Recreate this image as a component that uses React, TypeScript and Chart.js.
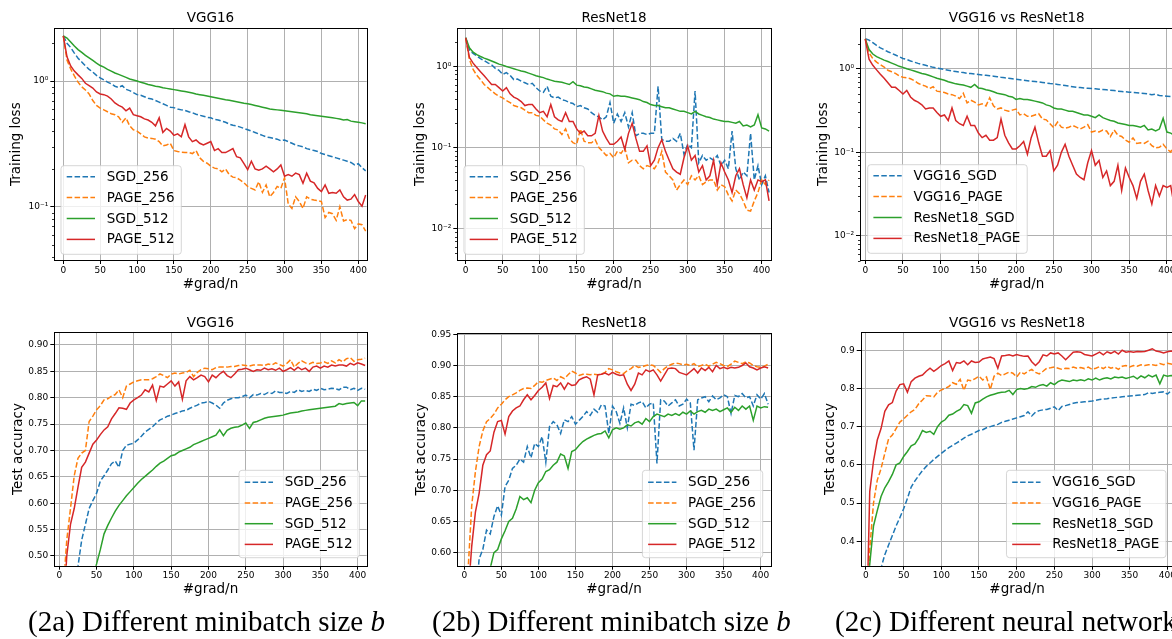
import React, { useEffect, useRef } from "react";
import { Chart, registerables } from "chart.js";

Chart.register(...registerables);

// ---------------- data ----------------
const X_STEPS = [
  0, 5, 10, 15, 20, 25, 30, 35, 40, 45,
  50, 55, 60, 65, 70, 75, 80, 85, 90, 95,
  100, 105, 110, 115, 120, 125, 130, 135, 140, 145,
  150, 155, 160, 165, 170, 175, 180, 185, 190, 195,
  200, 205, 210, 215, 220, 225, 230, 235, 240, 245,
  250, 255, 260, 265, 270, 275, 280, 285, 290, 295,
  300, 305, 310, 315, 320, 325, 330, 335, 340, 345,
  350, 355, 360, 365, 370, 375, 380, 385, 390, 395,
  400, 405, 410,
];
const X_TICKS = [0, 50, 100, 150, 200, 250, 300, 350, 400];

const VGG_LOSS_SGD256 = [
  2.29, 2.0, 1.85, 1.67, 1.52, 1.42, 1.32, 1.24, 1.18, 1.11,
  1.06, 1.02, 0.98, 0.95, 0.91, 0.89, 0.92, 0.86, 0.84, 0.81,
  0.78, 0.77, 0.75, 0.73, 0.72, 0.70, 0.68, 0.66, 0.64, 0.62,
  0.615, 0.60, 0.59, 0.585, 0.57, 0.56, 0.545, 0.535, 0.525, 0.515,
  0.51, 0.495, 0.49, 0.48, 0.47, 0.455, 0.445, 0.44, 0.43, 0.42,
  0.41, 0.40, 0.39, 0.38, 0.37, 0.36, 0.355, 0.35, 0.345, 0.335,
  0.34, 0.33, 0.32, 0.31, 0.305, 0.30, 0.29, 0.285, 0.28, 0.275,
  0.265, 0.26, 0.255, 0.25, 0.245, 0.24, 0.235, 0.23, 0.225, 0.215,
  0.22, 0.205, 0.193,
];
const VGG_LOSS_PAGE256 = [
  2.29, 1.47, 1.25, 1.10, 0.98, 0.90, 0.85, 0.79, 0.70, 0.64,
  0.61, 0.59, 0.57, 0.55, 0.54, 0.52, 0.47, 0.51, 0.44, 0.41,
  0.40, 0.38, 0.36, 0.352, 0.35, 0.345, 0.33, 0.305, 0.31, 0.32,
  0.28, 0.275, 0.272, 0.27, 0.27, 0.265, 0.28, 0.245, 0.23, 0.222,
  0.21, 0.203, 0.20, 0.19, 0.20, 0.18, 0.172, 0.17, 0.163, 0.155,
  0.145, 0.14, 0.136, 0.158, 0.13, 0.149, 0.12, 0.13, 0.145, 0.14,
  0.17, 0.105, 0.097, 0.12, 0.11, 0.097, 0.12, 0.115, 0.113, 0.112,
  0.11, 0.082, 0.09, 0.088, 0.078, 0.10, 0.077, 0.079, 0.078, 0.067,
  0.073, 0.072, 0.064,
];
const VGG_LOSS_SGD512 = [
  2.29, 2.2, 2.05, 1.9, 1.78, 1.69, 1.6, 1.53, 1.46, 1.39,
  1.33, 1.29, 1.24, 1.20, 1.16, 1.13, 1.10, 1.07, 1.04, 1.02,
  1.00, 0.98, 0.96, 0.94, 0.925, 0.91, 0.90, 0.885, 0.875, 0.865,
  0.855, 0.845, 0.835, 0.825, 0.815, 0.805, 0.79, 0.78, 0.77, 0.76,
  0.75, 0.74, 0.73, 0.72, 0.71, 0.705, 0.695, 0.685, 0.675, 0.665,
  0.66, 0.65, 0.64, 0.63, 0.62, 0.61, 0.60, 0.595, 0.59, 0.585,
  0.58, 0.575, 0.57, 0.565, 0.56, 0.555, 0.55, 0.54, 0.535, 0.53,
  0.525, 0.52, 0.515, 0.51, 0.505, 0.50, 0.49, 0.495, 0.48, 0.475,
  0.47, 0.465, 0.458,
];
const VGG_LOSS_PAGE512 = [
  2.29, 1.56, 1.32, 1.20, 1.12, 1.05, 0.96, 0.92, 0.88, 0.82,
  0.79, 0.78, 0.76, 0.72, 0.67, 0.64, 0.62, 0.58, 0.61, 0.54,
  0.53, 0.52, 0.50, 0.49, 0.47, 0.44, 0.51, 0.39, 0.42, 0.40,
  0.37, 0.38, 0.36, 0.45, 0.36, 0.33, 0.34, 0.32, 0.31, 0.32,
  0.33, 0.28, 0.29, 0.27, 0.27, 0.28, 0.29, 0.25, 0.245, 0.22,
  0.197, 0.23, 0.20, 0.195, 0.20, 0.21, 0.20, 0.19, 0.20, 0.215,
  0.175, 0.18, 0.175, 0.185, 0.18, 0.154, 0.185, 0.16, 0.155, 0.14,
  0.132, 0.149, 0.128, 0.13, 0.128, 0.136, 0.12, 0.113, 0.115, 0.125,
  0.11, 0.101, 0.124,
];

const RES_LOSS_SGD256 = [
  2.26, 1.6, 1.45, 1.35, 1.25, 1.18, 1.11, 1.05, 0.95, 0.90,
  0.80, 0.84, 0.78, 0.69, 0.70, 0.66, 0.63, 0.60, 0.62, 0.55,
  0.50, 0.48, 0.57, 0.43, 0.41, 0.42, 0.39, 0.38, 0.36, 0.35,
  0.32, 0.33, 0.31, 0.30, 0.27, 0.25, 0.24, 0.22, 0.24, 0.36,
  0.20, 0.26, 0.21, 0.27, 0.18, 0.27, 0.14, 0.15, 0.15, 0.145,
  0.15, 0.15, 0.57, 0.126, 0.12, 0.12, 0.13, 0.12, 0.15, 0.083,
  0.11, 0.10, 0.50, 0.065, 0.08, 0.07, 0.075, 0.07, 0.08, 0.06,
  0.07, 0.055, 0.16, 0.055, 0.04, 0.05, 0.045, 0.15, 0.04, 0.06,
  0.035, 0.045, 0.028,
];
const RES_LOSS_PAGE256 = [
  2.26, 1.22, 0.92, 0.78, 0.69, 0.60, 0.55, 0.50, 0.46, 0.43,
  0.41, 0.38, 0.36, 0.33, 0.32, 0.31, 0.29, 0.27, 0.27, 0.25,
  0.245, 0.22, 0.20, 0.19, 0.17, 0.165, 0.145, 0.17, 0.13, 0.115,
  0.11, 0.17, 0.12, 0.115, 0.115, 0.125, 0.10, 0.09, 0.08, 0.085,
  0.075, 0.09, 0.085, 0.10, 0.065, 0.07, 0.07, 0.06, 0.055, 0.06,
  0.058, 0.055, 0.065, 0.09, 0.05, 0.045, 0.04, 0.03, 0.035, 0.04,
  0.035, 0.045, 0.04, 0.045, 0.035, 0.038, 0.04, 0.04, 0.03, 0.035,
  0.033, 0.026, 0.022, 0.03, 0.027, 0.022, 0.017, 0.0165, 0.022, 0.028,
  0.04, 0.035, 0.04,
];
const RES_LOSS_SGD512 = [
  2.26, 1.7, 1.5, 1.4, 1.33, 1.27, 1.22, 1.17, 1.12, 1.07,
  1.04, 1.0, 0.97, 0.94, 0.91, 0.88, 0.86, 0.83, 0.80, 0.77,
  0.75, 0.73, 0.70, 0.68, 0.66, 0.65, 0.64, 0.62, 0.60, 0.65,
  0.59, 0.58, 0.56, 0.55, 0.53, 0.51, 0.50, 0.49, 0.47, 0.46,
  0.43, 0.44, 0.43, 0.43, 0.42, 0.41, 0.40, 0.39, 0.37, 0.36,
  0.34, 0.33, 0.33, 0.32, 0.31, 0.31, 0.30, 0.29, 0.28, 0.28,
  0.27, 0.26, 0.28, 0.26, 0.25, 0.24, 0.235, 0.225, 0.22, 0.215,
  0.21, 0.21, 0.205, 0.20, 0.21, 0.185, 0.19, 0.18, 0.19, 0.255,
  0.175, 0.17, 0.16,
];
const RES_LOSS_PAGE512 = [
  2.26, 1.3, 1.1, 0.97, 0.86, 0.77, 0.68, 0.60, 0.60, 0.55,
  0.50, 0.55, 0.46, 0.42, 0.40, 0.37, 0.33, 0.34, 0.34, 0.30,
  0.27, 0.28, 0.24, 0.34, 0.24, 0.22, 0.21, 0.27, 0.21, 0.21,
  0.17, 0.15, 0.16, 0.14, 0.14, 0.15, 0.25, 0.16, 0.13, 0.11,
  0.11, 0.12, 0.135, 0.095, 0.15, 0.20, 0.13, 0.09, 0.09, 0.105,
  0.06, 0.07, 0.10, 0.125, 0.09, 0.07, 0.055, 0.05, 0.047, 0.075,
  0.105, 0.07, 0.08, 0.05, 0.06, 0.04, 0.045, 0.07, 0.035, 0.065,
  0.05, 0.04, 0.028, 0.045, 0.055, 0.035, 0.024, 0.04, 0.03, 0.04,
  0.038, 0.04, 0.022,
];

const VGG_ACC_SGD256 = [
  0.10, 0.20, 0.30, 0.36, 0.42, 0.48, 0.53, 0.56, 0.59, 0.605,
  0.619, 0.642, 0.652, 0.663, 0.675, 0.68, 0.668, 0.70, 0.71, 0.712,
  0.714, 0.72, 0.727, 0.735, 0.74, 0.745, 0.752, 0.758, 0.761, 0.765,
  0.767, 0.77, 0.772, 0.775, 0.776, 0.78, 0.783, 0.786, 0.79, 0.791,
  0.793, 0.79, 0.786, 0.78, 0.79, 0.795, 0.798, 0.80, 0.80, 0.802,
  0.805, 0.80, 0.806, 0.805, 0.808, 0.806, 0.81, 0.808, 0.813, 0.81,
  0.81, 0.808, 0.812, 0.81, 0.815, 0.812, 0.814, 0.812, 0.816, 0.814,
  0.818, 0.815, 0.816, 0.818, 0.817, 0.815, 0.82, 0.82, 0.815, 0.818,
  0.814, 0.818, 0.816,
];
const VGG_ACC_PAGE256 = [
  0.10, 0.43, 0.53, 0.59, 0.652, 0.685, 0.695, 0.70, 0.755, 0.765,
  0.777, 0.785, 0.796, 0.798, 0.803, 0.806, 0.815, 0.80, 0.822, 0.826,
  0.83, 0.832, 0.834, 0.834, 0.834, 0.836, 0.84, 0.845, 0.842, 0.838,
  0.845, 0.847, 0.845, 0.847, 0.848, 0.852, 0.84, 0.848, 0.853, 0.856,
  0.855, 0.853, 0.857, 0.858, 0.858, 0.858, 0.859, 0.859, 0.861, 0.862,
  0.861, 0.86, 0.862, 0.862, 0.862, 0.861, 0.864, 0.862, 0.866, 0.863,
  0.86, 0.865, 0.872, 0.858, 0.865, 0.87, 0.866, 0.864, 0.867, 0.865,
  0.866, 0.868, 0.865, 0.87, 0.866, 0.872, 0.868, 0.874, 0.876, 0.869,
  0.872, 0.873, 0.875,
];
const VGG_ACC_SGD512 = [
  0.10, 0.15, 0.20, 0.26, 0.33, 0.365, 0.39, 0.415, 0.44, 0.462,
  0.485, 0.512, 0.542, 0.558, 0.572, 0.585, 0.596, 0.605, 0.614, 0.622,
  0.63, 0.638, 0.645, 0.651, 0.657, 0.663, 0.67, 0.676, 0.68, 0.685,
  0.69, 0.692, 0.697, 0.70, 0.703, 0.706, 0.711, 0.714, 0.717, 0.72,
  0.723, 0.726, 0.729, 0.739, 0.728, 0.738, 0.742, 0.744, 0.745, 0.748,
  0.752, 0.742, 0.753, 0.755, 0.758, 0.761, 0.763, 0.764, 0.765, 0.766,
  0.767, 0.769, 0.771, 0.772, 0.773, 0.775, 0.776, 0.777, 0.778, 0.779,
  0.78, 0.781, 0.782, 0.783, 0.784, 0.789, 0.787, 0.789, 0.79, 0.791,
  0.785, 0.794, 0.794,
];
const VGG_ACC_PAGE512 = [
  0.10, 0.38, 0.50, 0.56, 0.59, 0.63, 0.668, 0.678, 0.695, 0.712,
  0.72, 0.73, 0.739, 0.745, 0.76, 0.77, 0.781, 0.78, 0.778, 0.79,
  0.796, 0.80, 0.805, 0.815, 0.811, 0.824, 0.795, 0.822, 0.82, 0.826,
  0.832, 0.822, 0.83, 0.797, 0.832, 0.84, 0.834, 0.838, 0.843, 0.84,
  0.83, 0.843, 0.838, 0.845, 0.85, 0.842, 0.838, 0.845, 0.853, 0.854,
  0.856, 0.853, 0.85, 0.853, 0.852, 0.856, 0.853, 0.855, 0.852, 0.856,
  0.85, 0.853, 0.857, 0.852, 0.858, 0.853, 0.856, 0.85, 0.858, 0.86,
  0.856, 0.86, 0.858, 0.862, 0.86, 0.862, 0.862, 0.86, 0.865, 0.862,
  0.866, 0.864, 0.861,
];

const RES_ACC_SGD256 = [
  0.10, 0.30, 0.45, 0.52, 0.59, 0.605, 0.636, 0.63, 0.658, 0.675,
  0.66, 0.706, 0.716, 0.735, 0.74, 0.75, 0.745, 0.77, 0.752, 0.775,
  0.77, 0.786, 0.745, 0.802, 0.81, 0.805, 0.791, 0.813, 0.81, 0.818,
  0.806, 0.812, 0.818, 0.826, 0.82, 0.83, 0.825, 0.837, 0.835, 0.791,
  0.835, 0.826, 0.807, 0.832, 0.80, 0.838, 0.836, 0.84, 0.842, 0.832,
  0.838, 0.84, 0.743, 0.845, 0.843, 0.835, 0.84, 0.845, 0.835, 0.838,
  0.846, 0.84, 0.764, 0.845, 0.848, 0.85, 0.842, 0.851, 0.845, 0.848,
  0.853, 0.85, 0.823, 0.852, 0.85, 0.855, 0.848, 0.85, 0.835, 0.853,
  0.846, 0.855, 0.838,
];
const RES_ACC_PAGE256 = [
  0.10, 0.57, 0.675, 0.73, 0.77, 0.795, 0.81, 0.815, 0.822, 0.832,
  0.838, 0.845, 0.85, 0.853, 0.856, 0.86, 0.863, 0.864, 0.863, 0.868,
  0.874, 0.873, 0.876, 0.878, 0.88, 0.876, 0.882, 0.879, 0.885, 0.891,
  0.888, 0.884, 0.886, 0.886, 0.885, 0.886, 0.885, 0.886, 0.889, 0.895,
  0.893, 0.89, 0.888, 0.887, 0.892, 0.895, 0.90, 0.897, 0.898, 0.90,
  0.901, 0.90, 0.895, 0.889, 0.895, 0.899, 0.902, 0.904, 0.903, 0.901,
  0.902, 0.90, 0.903, 0.898, 0.90, 0.902, 0.899, 0.902, 0.905, 0.903,
  0.90, 0.898, 0.902, 0.907, 0.905, 0.903, 0.906, 0.904, 0.90, 0.898,
  0.897, 0.899, 0.902,
];
const RES_ACC_SGD512 = [
  0.10, 0.34, 0.44, 0.48, 0.517, 0.54, 0.556, 0.575, 0.60, 0.605,
  0.622, 0.635, 0.65, 0.655, 0.67, 0.69, 0.685, 0.688, 0.68, 0.70,
  0.712, 0.718, 0.73, 0.733, 0.74, 0.745, 0.758, 0.755, 0.735, 0.762,
  0.765, 0.772, 0.778, 0.782, 0.785, 0.788, 0.79, 0.791, 0.795, 0.784,
  0.797, 0.80, 0.798, 0.80, 0.805, 0.803, 0.808, 0.81, 0.806, 0.815,
  0.81, 0.818, 0.822, 0.82, 0.818, 0.822, 0.82, 0.823, 0.82, 0.825,
  0.822, 0.827, 0.822, 0.826, 0.828, 0.825, 0.83, 0.828, 0.83, 0.826,
  0.829, 0.832, 0.825, 0.833, 0.828, 0.835, 0.83, 0.835, 0.812, 0.835,
  0.832, 0.834, 0.833,
];
const RES_ACC_PAGE512 = [
  0.10, 0.53, 0.61, 0.665, 0.695, 0.74, 0.757, 0.763, 0.793, 0.81,
  0.812, 0.79, 0.818, 0.827, 0.832, 0.835, 0.845, 0.853, 0.845, 0.852,
  0.86, 0.865, 0.872, 0.847, 0.868, 0.866, 0.872, 0.862, 0.872, 0.868,
  0.869, 0.877, 0.88, 0.882, 0.878, 0.853, 0.885, 0.886, 0.888, 0.885,
  0.889, 0.886, 0.884, 0.885, 0.87, 0.86, 0.87, 0.888, 0.885, 0.893,
  0.89, 0.893, 0.885, 0.875, 0.885, 0.895, 0.896, 0.895, 0.889, 0.887,
  0.885, 0.89, 0.895, 0.888, 0.896, 0.892, 0.897, 0.89, 0.90, 0.895,
  0.897, 0.895, 0.897, 0.896, 0.897, 0.90, 0.904, 0.898, 0.896, 0.893,
  0.896, 0.898, 0.896,
];

// tick values
const LOG_TICKS_A = [0.04, 0.05, 0.06, 0.07, 0.08, 0.09, 0.1, 0.2, 0.3, 0.4, 0.5, 0.6, 0.7, 0.8, 0.9, 1, 2];
const LOG_TICKS_B = [
  0.005, 0.006, 0.007, 0.008, 0.009, 0.01, 0.02, 0.03, 0.04, 0.05, 0.06, 0.07, 0.08, 0.09,
  0.1, 0.2, 0.3, 0.4, 0.5, 0.6, 0.7, 0.8, 0.9, 1, 2,
];
const ACC_TICKS_A = [0.5, 0.55, 0.6, 0.65, 0.7, 0.75, 0.8, 0.85, 0.9];
const ACC_TICKS_B = [0.6, 0.65, 0.7, 0.75, 0.8, 0.85, 0.9, 0.95];
const ACC_TICKS_C = [0.4, 0.5, 0.6, 0.7, 0.8, 0.9];

// ---------------- styling ----------------
const FONT = '"DejaVu Sans", sans-serif';
const BLUE = "#1f77b4";
const ORANGE = "#ff7f0e";
const GREEN = "#2ca02c";
const RED = "#d62728";

const SUP: Record<string, string> = {
  "0": "\u2070", "1": "\u00b9", "2": "\u00b2", "3": "\u00b3", "4": "\u2074",
  "5": "\u2075", "6": "\u2076", "7": "\u2077", "8": "\u2078", "9": "\u2079", "-": "\u207b",
};
const isPow10 = (v: number) => {
  const e = Math.log10(v);
  return Math.abs(e - Math.round(e)) < 1e-6;
};
const logLabel = (v: number) => {
  if (!isPow10(v)) return "";
  const e = Math.round(Math.log10(v));
  return "10" + String(e).split("").map((c) => SUP[c]).join("");
};

type Series = { label: string; data: number[]; color: string; dashed: boolean };

const minibatchSeries = (a: number[], b: number[], c: number[], d: number[]): Series[] => [
  { label: "SGD_256", data: a, color: BLUE, dashed: true },
  { label: "PAGE_256", data: b, color: ORANGE, dashed: true },
  { label: "SGD_512", data: c, color: GREEN, dashed: false },
  { label: "PAGE_512", data: d, color: RED, dashed: false },
];
const networkSeries = (a: number[], b: number[], c: number[], d: number[]): Series[] => [
  { label: "VGG16_SGD", data: a, color: BLUE, dashed: true },
  { label: "VGG16_PAGE", data: b, color: ORANGE, dashed: true },
  { label: "ResNet18_SGD", data: c, color: GREEN, dashed: false },
  { label: "ResNet18_PAGE", data: d, color: RED, dashed: false },
];

const LEG_TOP = { first: 11.0, step: 20.9, h: 88.6 };
const LEG_BOT = { first: 12.0, step: 20.7, h: 87.4 };

const PANELS: any[] = [
  {
    left: 0, top: 0, width: 390, height: 300, title: "VGG16", titlePad: [10.4, 1.7],
    yLabel: "Training loss", yLabelPad: 8.4, yW: 54.3, xH: 40, xLabelPad: 7.4, padR: 23.3,
    yLog: true, yMin: 0.0377, yMax: 2.63, yTicks: LOG_TICKS_A, xMin: -12.2, xMax: 411.4,
    series: minibatchSeries(VGG_LOSS_SGD256, VGG_LOSS_PAGE256, VGG_LOSS_SGD512, VGG_LOSS_PAGE512),
    legend: { corner: "ll", dx: 6.7, dy: 5.7, ...LEG_TOP },
  },
  {
    left: 400, top: 0, width: 390, height: 300, title: "ResNet18", titlePad: [10.4, 1.7],
    yLabel: "Training loss", yLabelPad: 11.9, yW: 57.3, xH: 40, xLabelPad: 7.4, padR: 19.3,
    yLog: true, yMin: 0.00412, yMax: 2.96, yTicks: LOG_TICKS_B, xMin: -11.35, xMax: 412.2,
    series: minibatchSeries(RES_LOSS_SGD256, RES_LOSS_PAGE256, RES_LOSS_SGD512, RES_LOSS_PAGE512),
    legend: { corner: "ll", dx: 6.7, dy: 5.7, ...LEG_TOP },
  },
  {
    left: 800, top: 0, width: 395, height: 300, title: "VGG16 vs ResNet18", titlePad: [10.4, 1.7],
    yLabel: "Training loss", yLabelPad: 14.9, yW: 60, xH: 40, xLabelPad: 7.4, padR: 21.6,
    yLog: true, yMin: 0.00515, yMax: 3.05, yTicks: LOG_TICKS_B, xMin: -7.0, xMax: 408.6,
    series: networkSeries(VGG_LOSS_SGD512, VGG_LOSS_PAGE512, RES_LOSS_SGD512, RES_LOSS_PAGE512),
    legend: { corner: "ll", dx: 7.7, dy: 6.7, ...LEG_TOP },
  },
  {
    left: 0, top: 300, width: 390, height: 312, title: "VGG16", titlePad: [15.7, 0.4],
    yLabel: "Test accuracy", yLabelPad: 10.2, yW: 54.3, xH: 46.3, xLabelPad: 14.9, padR: 23.3,
    yLog: false, yMin: 0.4816, yMax: 0.924, yTicks: ACC_TICKS_A, yDigits: 2, xMin: -6.7, xMax: 412.1,
    series: minibatchSeries(VGG_ACC_SGD256, VGG_ACC_PAGE256, VGG_ACC_SGD512, VGG_ACC_PAGE512),
    legend: { corner: "lr", dx: 7.4, dy: 8, ...LEG_BOT },
  },
  {
    left: 400, top: 300, width: 390, height: 312, title: "ResNet18", titlePad: [15.7, 1.4],
    yLabel: "Test accuracy", yLabelPad: 13.6, yW: 57.3, xH: 46.3, xLabelPad: 14.9, padR: 19.3,
    yLog: false, yMin: 0.579, yMax: 0.9516, yTicks: ACC_TICKS_B, yDigits: 2, xMin: -9.45, xMax: 413.5,
    series: minibatchSeries(RES_ACC_SGD256, RES_ACC_PAGE256, RES_ACC_SGD512, RES_ACC_PAGE512),
    legend: { corner: "lr", dx: 8, dy: 8, ...LEG_BOT },
  },
  {
    left: 800, top: 300, width: 395, height: 312, title: "VGG16 vs ResNet18", titlePad: [15.7, 0.4],
    yLabel: "Test accuracy", yLabelPad: 22.7, yW: 60.7, xH: 46.3, xLabelPad: 14.9, padR: 21.6,
    yLog: false, yMin: 0.336, yMax: 0.947, yTicks: ACC_TICKS_C, yDigits: 1, xMin: -7.0, xMax: 408,
    series: networkSeries(VGG_ACC_SGD512, VGG_ACC_PAGE512, RES_ACC_SGD512, RES_ACC_PAGE512),
    legend: { corner: "lr", dx: 7.4, dy: 8, ...LEG_BOT },
  },
];

// ---------------- plugin: spines, minor ticks, matplotlib-like legend ----------------
const decorPlugin = {
  id: "mplDecor",
  afterDatasetsDraw(chart: any, _args: any, opts: any) {
    const { ctx, chartArea: ca } = chart;
    ctx.save();
    const L = Math.round(ca.left) + 0.5;
    const R = Math.round(ca.right) + 0.5;
    const T = Math.round(ca.top) + 0.5;
    const B = Math.round(ca.bottom) + 0.5;

    if (opts.minor && opts.minor.length) {
      const ys = chart.scales.y;
      ctx.strokeStyle = "#000";
      ctx.lineWidth = 0.8;
      for (const v of opts.minor) {
        const py = Math.round(ys.getPixelForValue(v)) + 0.5;
        ctx.beginPath();
        ctx.moveTo(L - 2.5, py);
        ctx.lineTo(L, py);
        ctx.stroke();
      }
    }

    ctx.strokeStyle = "#000";
    ctx.lineWidth = 1;
    ctx.strokeRect(L, T, R - L, B - T);

    const lg = opts.legend;
    if (lg) {
      const ds = chart.data.datasets;
      ctx.font = `13.5px ${FONT}`;
      let tw = 0;
      for (const d of ds) tw = Math.max(tw, ctx.measureText(d.label).width);
      const padL = 5.7, hl = 28.3, gap = 11.7, padR = 6.8;
      const w = padL + hl + gap + tw + padR;
      const h = lg.h;
      const x = lg.corner === "ll" ? ca.left + lg.dx : ca.right - lg.dx - w;
      const y = ca.bottom - lg.dy - h;
      const r = 3;
      ctx.beginPath();
      ctx.moveTo(x + r, y);
      ctx.lineTo(x + w - r, y);
      ctx.quadraticCurveTo(x + w, y, x + w, y + r);
      ctx.lineTo(x + w, y + h - r);
      ctx.quadraticCurveTo(x + w, y + h, x + w - r, y + h);
      ctx.lineTo(x + r, y + h);
      ctx.quadraticCurveTo(x, y + h, x, y + h - r);
      ctx.lineTo(x, y + r);
      ctx.quadraticCurveTo(x, y, x + r, y);
      ctx.closePath();
      ctx.fillStyle = "rgba(255,255,255,0.8)";
      ctx.fill();
      ctx.strokeStyle = "rgba(204,204,204,0.8)";
      ctx.lineWidth = 1;
      ctx.stroke();
      ds.forEach((d: any, i: number) => {
        const cy = y + lg.first + i * lg.step;
        ctx.save();
        ctx.setLineDash(d.borderDash || []);
        ctx.strokeStyle = d.borderColor;
        ctx.lineWidth = 1.5;
        ctx.beginPath();
        ctx.moveTo(x + padL, cy);
        ctx.lineTo(x + padL + hl, cy);
        ctx.stroke();
        ctx.restore();
        ctx.fillStyle = "#000";
        ctx.textAlign = "left";
        ctx.textBaseline = "middle";
        ctx.fillText(d.label, x + padL + hl + gap, cy + 0.5);
      });
    }
    ctx.restore();
  },
};

function makeConfig(d: any) {
  const order = d.series.length;
  const datasets = d.series.map((s: Series, i: number) => ({
    label: s.label,
    data: X_STEPS.map((x, k) => ({ x, y: s.data[k] })),
    borderColor: s.color,
    backgroundColor: s.color,
    borderWidth: 1.5,
    borderDash: s.dashed ? [5.5, 2.4] : [],
    pointRadius: 0,
    tension: 0,
    fill: false,
    order: order - i,
  }));
  const tickFont = { family: FONT, size: 9 };
  const labelFont = { family: FONT, size: 13.5 };
  const major = (ctx: any) => {
    const v = ctx && ctx.tick ? ctx.tick.value : NaN;
    return d.yLog ? isPow10(v) : true;
  };
  const minor = d.yLog ? d.yTicks.filter((v: number) => !isPow10(v)) : [];
  return {
    type: "line",
    data: { datasets },
    options: {
      responsive: false,
      animation: false,
      events: [],
      layout: { padding: { left: 0, top: 0, right: d.padR, bottom: 0 } },
      plugins: {
        legend: { display: false },
        tooltip: { enabled: false },
        title: {
          display: true,
          text: d.title,
          fullSize: false,
          color: "#000",
          font: { ...labelFont, weight: "normal" },
          padding: { top: d.titlePad[0], bottom: d.titlePad[1] },
        },
        mplDecor: { legend: d.legend, minor },
      },
      scales: {
        x: {
          type: "linear",
          min: d.xMin,
          max: d.xMax,
          afterBuildTicks: (s: any) => {
            s.ticks = X_TICKS.map((v) => ({ value: v }));
          },
          afterFit: (s: any) => {
            s.height = d.xH;
          },
          ticks: {
            font: tickFont,
            color: "#000",
            padding: 1,
            autoSkip: false,
            maxRotation: 0,
            callback: (v: any) => String(v),
          },
          grid: { color: "#b0b0b0", lineWidth: 1, tickLength: 4, tickColor: "#000", drawTicks: true },
          border: { display: false },
          title: {
            display: true,
            text: "#grad/n",
            color: "#000",
            font: labelFont,
            padding: { top: 0, bottom: d.xLabelPad },
          },
        },
        y: {
          type: d.yLog ? "logarithmic" : "linear",
          min: d.yMin,
          max: d.yMax,
          afterBuildTicks: (s: any) => {
            s.ticks = d.yTicks.map((v: number) => ({ value: v }));
          },
          afterFit: (s: any) => {
            s.width = d.yW;
          },
          ticks: {
            font: tickFont,
            color: "#000",
            padding: 2,
            autoSkip: false,
            callback: (v: any) => (d.yLog ? logLabel(Number(v)) : Number(v).toFixed(d.yDigits)),
          },
          grid: {
            color: (c: any) => (major(c) ? "#b0b0b0" : "rgba(0,0,0,0)"),
            tickColor: (c: any) => (major(c) ? "#000" : "rgba(0,0,0,0)"),
            lineWidth: 1,
            tickLength: 4,
            drawTicks: true,
          },
          border: { display: false },
          title: {
            display: true,
            text: d.yLabel,
            color: "#000",
            font: labelFont,
            padding: { top: d.yLabelPad, bottom: 0 },
          },
        },
      },
    },
    plugins: [decorPlugin],
  };
}

function Panel({ def }: { def: any }) {
  const ref = useRef<HTMLCanvasElement>(null);
  useEffect(() => {
    const chart = new Chart(ref.current as HTMLCanvasElement, makeConfig(def) as any);
    return () => chart.destroy();
  }, [def]);
  return (
    <canvas
      ref={ref}
      width={def.width}
      height={def.height}
      style={{ position: "absolute", left: def.left, top: def.top, width: def.width, height: def.height }}
    />
  );
}

const captionStyle = (left: number): React.CSSProperties => ({
  position: "absolute",
  left,
  top: 606.5,
  fontFamily: '"Liberation Serif", "Times New Roman", serif',
  fontSize: 29,
  lineHeight: "28px",
  whiteSpace: "nowrap",
  color: "#000",
});

export default function App() {
  return (
    <div
      style={{
        position: "absolute",
        left: 0,
        top: 0,
        width: 1172,
        height: 639,
        overflow: "hidden",
        background: "#fff",
      }}
    >
      {PANELS.map((p, i) => (
        <Panel key={i} def={p} />
      ))}
      <div style={captionStyle(28)}>
        (2a) Different minibatch size <i>b</i>
      </div>
      <div style={captionStyle(432)}>
        (2b) Different minibatch size <i>b</i>
      </div>
      <div style={captionStyle(835)}>(2c) Different neural networks</div>
    </div>
  );
}
